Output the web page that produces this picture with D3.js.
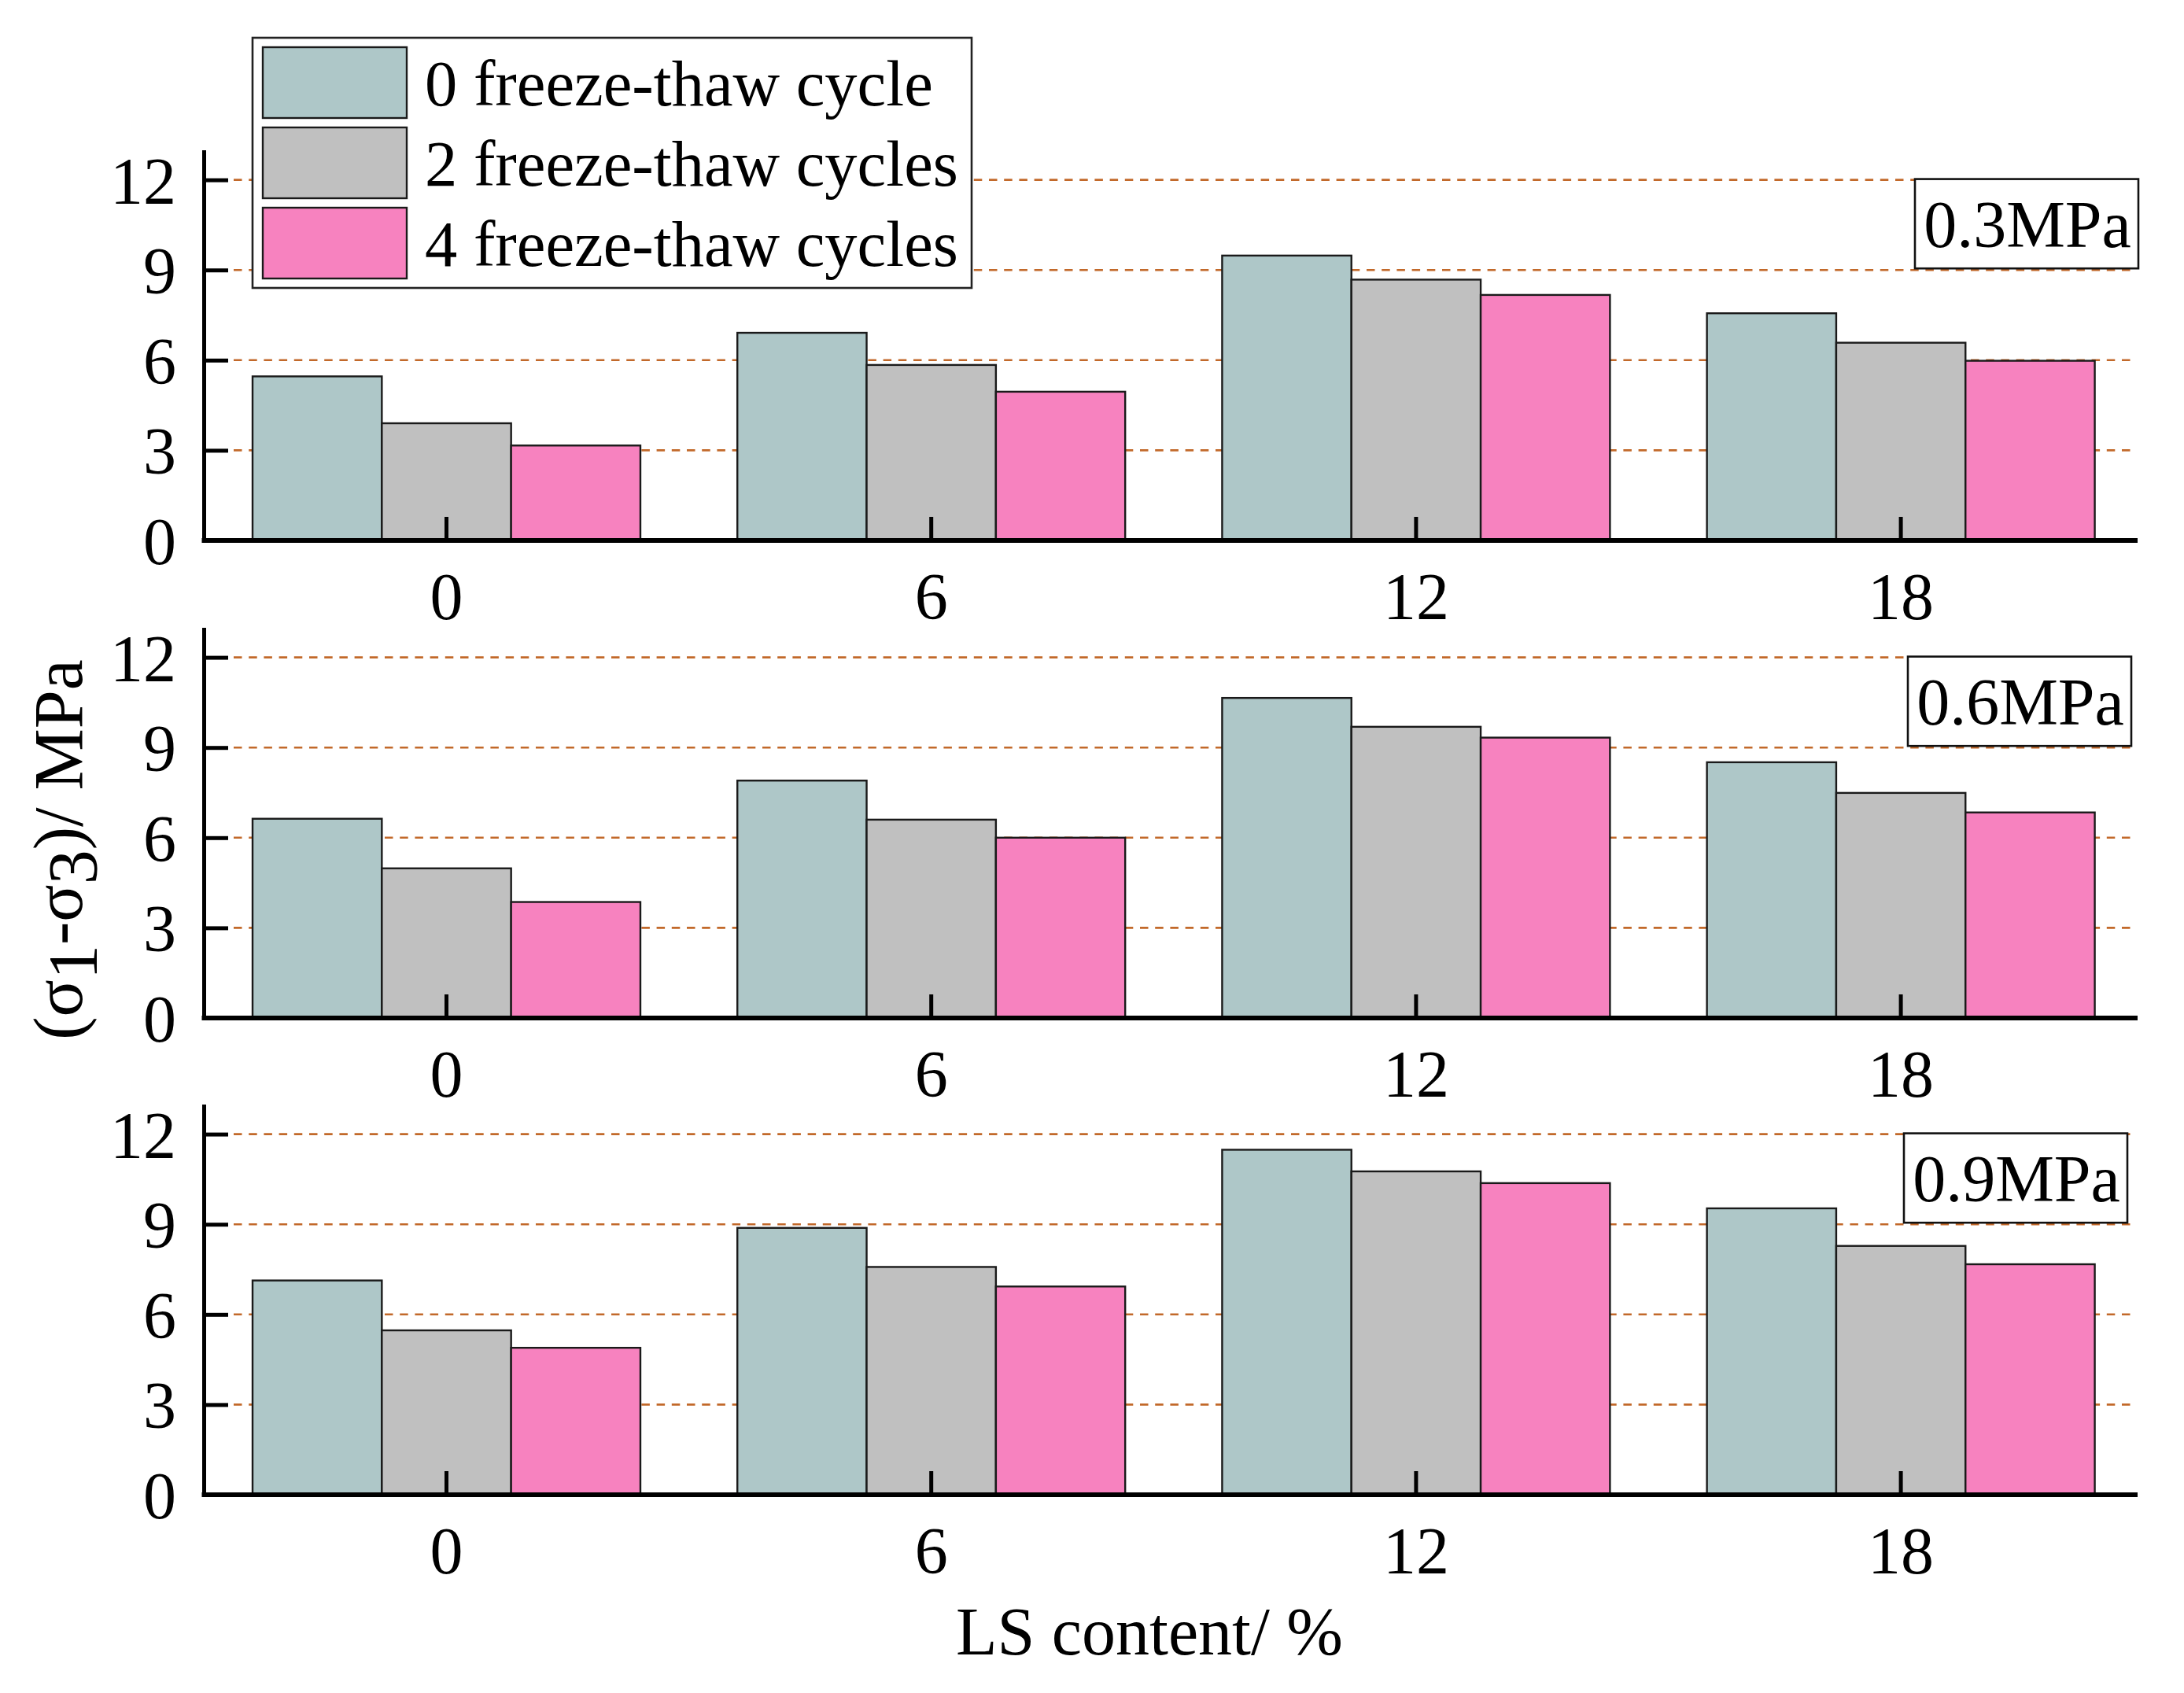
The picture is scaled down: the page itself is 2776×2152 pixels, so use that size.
<!DOCTYPE html>
<html>
<head>
<meta charset="utf-8">
<script src="https://cdn.jsdelivr.net/npm/d3@7"></script>
<style>
  body { margin: 0; background: #fff; }
  svg text { font-family: "Liberation Serif", "Times New Roman", serif; fill: #000; }
</style>
</head>
<body>
<svg id="chart" width="2776" height="2152"></svg>
<script>
// categories on the x axis (LS content, %)
const categories = ["0", "6", "12", "18"];
const seriesNames = ["0 freeze-thaw cycle", "2 freeze-thaw cycles", "4 freeze-thaw cycles"];
const seriesColors = ["#aec7c8", "#c0c0c0", "#f782bf"];
const panelLabels = ["0.3MPa", "0.6MPa", "0.9MPa"];
const yTicks = [0, 3, 6, 9, 12];

// (σ1-σ3) values, one row per series
const vals03 = [
    [5.46, 6.91, 9.48, 7.56],
    [3.90, 5.84, 8.68, 6.58],
    [3.16, 4.95, 8.17, 5.98]
];
const vals06 = [
    [6.63, 7.90, 10.65, 8.51],
    [4.98, 6.60, 9.69, 7.49],
    [3.86, 6.00, 9.33, 6.84]
];
const vals09 = [
    [7.13, 8.88, 11.48, 9.53],
    [5.47, 7.58, 10.76, 8.28],
    [4.89, 6.93, 10.37, 7.67]
];
const panelValues = [vals03, vals06, vals09];

let svg = d3.select("#chart");

let axisX = 259;
let plotRight = 2717;
let unitPx = 38.2;
let zeroYs = [687, 1294, 1900];
let boxLefts = [2434, 2425, 2420];
let gridColor = "#c2692a";

let x = d3.scaleBand()
    .domain(categories)
    .range([axisX + 0.4, axisX + 0.4 + 4 * 616.2])
    .paddingInner(0.2)
    .paddingOuter(0.1);

let xSub = d3.scaleBand()
    .domain(d3.range(seriesNames.length))
    .range([0, x.bandwidth()]);

function drawPanel(p) {
    let zero = zeroYs[p];
    let vals = panelValues[p];
    let y = d3.scaleLinear().domain([0, 13]).range([zero, zero - 13 * unitPx]);
    let g = svg.append("g");

    // dashed grid
    g.selectAll("line.grid")
        .data(yTicks.filter(d => d > 0))
        .enter().append("line")
        .attr("class", "grid")
        .attr("x1", axisX + 38)
        .attr("x2", plotRight - 4)
        .attr("y1", d => y(d))
        .attr("y2", d => y(d))
        .attr("stroke", gridColor)
        .attr("stroke-width", 2.6)
        .attr("stroke-dasharray", "10.5,8.7");

    // bars
    let groups = g.selectAll("g.grp")
        .data(categories)
        .enter().append("g")
        .attr("transform", d => "translate(" + x(d) + ",0)");

    groups.selectAll("rect")
        .data((c, ci) => vals.map((row, si) => ({ s: si, v: row[ci] })))
        .enter().append("rect")
        .attr("x", d => xSub(d.s))
        .attr("width", xSub.bandwidth())
        .attr("y", d => y(d.v))
        .attr("height", d => y(0) - y(d.v))
        .attr("fill", d => seriesColors[d.s])
        .attr("stroke", "#1a1a1a")
        .attr("stroke-width", 2.4);

    // y axis
    let yAxis = g.append("g")
        .attr("transform", "translate(" + axisX + ",0)")
        .call(d3.axisLeft(y).tickValues(yTicks).tickSizeInner(-31).tickSizeOuter(0).tickPadding(35));
    yAxis.select(".domain").attr("stroke-width", 5).attr("stroke", "#000");
    yAxis.selectAll(".tick line").attr("stroke-width", 5).attr("stroke", "#000");
    yAxis.selectAll(".tick text").attr("font-size", 84).attr("font-family", "Liberation Serif, serif").attr("dy", "0.35em");

    // x axis
    let xAxis = g.append("g")
        .attr("transform", "translate(0," + zero + ")")
        .call(d3.axisBottom(x).tickSizeInner(-30).tickSizeOuter(0).tickPadding(40));
    xAxis.select(".domain").remove();
    xAxis.append("line")
        .attr("x1", axisX - 2.5)
        .attr("x2", plotRight)
        .attr("stroke", "#000")
        .attr("stroke-width", 6);
    xAxis.selectAll(".tick line").attr("stroke-width", 5).attr("stroke", "#000");
    xAxis.selectAll(".tick text").attr("font-size", 84).attr("font-family", "Liberation Serif, serif");

    // pressure label box
    let bx = boxLefts[p];
    g.append("rect")
        .attr("x", bx)
        .attr("y", y(12) - 1)
        .attr("width", 284)
        .attr("height", y(9) - y(12) - 1)
        .attr("fill", "#fff")
        .attr("stroke", "#111")
        .attr("stroke-width", 2.6);
    g.append("text")
        .attr("x", bx + 143)
        .attr("y", y(12) + 85)
        .attr("text-anchor", "middle")
        .attr("font-size", 84)
        .text(panelLabels[p]);
}

for (let p = 0; p < panelValues.length; ++p) {
    drawPanel(p);
}

// legend
let legend = svg.append("g");
legend.append("rect")
    .attr("x", 321).attr("y", 48)
    .attr("width", 914).attr("height", 318)
    .attr("fill", "#fff")
    .attr("stroke", "#222")
    .attr("stroke-width", 2.6);
let items = legend.selectAll("g.item")
    .data(seriesNames)
    .enter().append("g")
    .attr("transform", (d, i) => "translate(0," + (i * 102) + ")");
items.append("rect")
    .attr("x", 334).attr("y", 60)
    .attr("width", 183).attr("height", 90)
    .attr("fill", (d, i) => seriesColors[i])
    .attr("stroke", "#1a1a1a")
    .attr("stroke-width", 2.4);
items.append("text")
    .attr("x", 540).attr("y", 134)
    .attr("font-size", 82.5)
    .text(d => d);

// axis titles
svg.append("text")
    .attr("x", 1461).attr("y", 2103)
    .attr("text-anchor", "middle")
    .attr("font-size", 86)
    .text("LS content/ %");

let yTitle = svg.append("text")
    .attr("transform", "translate(104,1080) rotate(-90)")
    .attr("text-anchor", "middle")
    .attr("font-size", 88);
yTitle.append("tspan").text("(σ");
yTitle.append("tspan").attr("dy", 18).text("1");
yTitle.append("tspan").attr("dy", -18).text("-σ");
yTitle.append("tspan").attr("dy", 18).text("3");
yTitle.append("tspan").attr("dy", -18).text(")/ MPa");
</script>
</body>
</html>
